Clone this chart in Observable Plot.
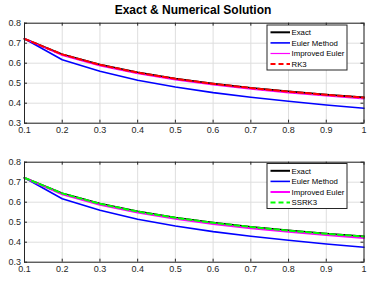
<!DOCTYPE html>
<html>
<head>
<meta charset="utf-8">
<script src="https://cdn.jsdelivr.net/npm/d3@7"></script>
<script src="https://cdn.jsdelivr.net/npm/@observablehq/plot@0.6"></script>
<style>
  html, body { margin: 0; padding: 0; background: #fff; }
  #wrap { position: relative; width: 373px; height: 282px; overflow: hidden; font-family: "Liberation Sans", Arial, sans-serif; }
  #title { position: absolute; left: 0; width: 386px; top: 3px; text-align: center; font-weight: bold; font-size: 12px; color: #000; line-height: 14px; z-index: 2; }
  .panel { position: absolute; left: 0; }
</style>
</head>
<body>
<div id="wrap">
  <div id="p1" class="panel" style="top:0px"></div>
  <div id="p2" class="panel" style="top:141px"></div>
  <div id="title">Exact &amp; Numerical Solution</div>
</div>
<script>
const xs = [0.1, 0.2, 0.3, 0.4, 0.5, 0.6, 0.7, 0.8, 0.9, 1.0];
const exact    = [0.722, 0.644, 0.592, 0.553, 0.522, 0.497, 0.476, 0.458, 0.442, 0.428];
const euler    = [0.722, 0.617, 0.560, 0.515, 0.481, 0.453, 0.430, 0.410, 0.391, 0.375];
const improved = [0.722, 0.639, 0.587, 0.548, 0.517, 0.491, 0.470, 0.452, 0.436, 0.421];
const rk3      = [0.722, 0.644, 0.592, 0.553, 0.522, 0.497, 0.476, 0.458, 0.442, 0.428];
const ssrk3    = [0.722, 0.644, 0.592, 0.553, 0.522, 0.497, 0.476, 0.458, 0.442, 0.428];
const xTicks = [0.1, 0.2, 0.3, 0.4, 0.5, 0.6, 0.7, 0.8, 0.9, 1.0];
const yTicks = [0.3, 0.4, 0.5, 0.6, 0.7, 0.8];
const legend1 = ["Exact", "Euler Method", "Improved Euler", "RK3"];
const legend2 = ["Exact", "Euler Method", "Improved Euler", "SSRK3"];

const AX = "#262626";
const GRID = "#dedede";

function toRows(ys) { return xs.map((x, i) => ({x, y: ys[i]})); }

function panel(cfg) {
  const W = 373, H = 141;
  const mL = 24, mR = 9.5;
  const innerH = H - cfg.mt - cfg.mb;
  const innerW = W - mL - mR;
  const tk = 3;
  const series = cfg.series;
  const marks = [
    Plot.gridX(xTicks, {stroke: GRID, strokeOpacity: 1}),
    Plot.gridY(yTicks, {stroke: GRID, strokeOpacity: 1}),
    Plot.ruleX(xTicks, {x: d => d, stroke: AX, insetTop: innerH - tk}),
    Plot.ruleX(xTicks, {x: d => d, stroke: AX, insetBottom: innerH - tk}),
    Plot.ruleY(yTicks, {y: d => d, stroke: AX, insetRight: innerW - tk}),
    Plot.ruleY(yTicks, {y: d => d, stroke: AX, insetLeft: innerW - tk}),
    Plot.axisX(xTicks, {tickSize: 0, tickPadding: 3.5, label: null, color: AX,
      tickFormat: d => d === 1 ? "1" : d.toFixed(1)}),
    Plot.axisY(yTicks, {tickSize: 0, tickPadding: 3.5, label: null, color: AX,
      tickFormat: d => d.toFixed(1)}),
    ...series.map(s => Plot.line(toRows(s.ys), {x: "x", y: "y", stroke: s.color,
      strokeWidth: s.w, strokeDasharray: s.dash || null, curve: "linear"})),
    Plot.frame({stroke: AX, strokeWidth: 1})
  ];
  const svg = Plot.plot({
    width: W, height: H,
    marginLeft: mL, marginRight: mR, marginTop: cfg.mt, marginBottom: cfg.mb,
    style: {fontFamily: '"Liberation Sans", Arial, sans-serif', fontSize: "9px", background: "transparent", color: AX},
    x: {domain: [0.1, 1], axis: null},
    y: {domain: [0.3, 0.8], axis: null},
    marks
  });
  const g = d3.select(svg).append("g").attr("text-anchor", "start");
  const lx = 267, lw = 80, ly = cfg.legendTop, lh = 45;
  g.append("rect").attr("x", lx).attr("y", ly).attr("width", lw).attr("height", lh)
    .style("fill", "#ffffff").style("stroke", AX).style("stroke-width", "1px");
  series.forEach((s, i) => {
    const yy = ly + 7.3 + i * 10.6;
    g.append("line").attr("x1", lx + 3.5).attr("x2", lx + 23).attr("y1", yy).attr("y2", yy)
      .style("stroke", s.color).style("stroke-width", (s.lw || s.w) + "px")
      .style("stroke-dasharray", s.dash || "none");
    g.append("text").attr("x", lx + 24.5).attr("y", yy).attr("dy", "0.35em")
      .style("text-anchor", "start")
      .style("font-size", "7.8px").style("fill", "#000")
      .style("font-family", '"Liberation Sans", Arial, sans-serif')
      .text(cfg.labels[i]);
  });
  return svg;
}

document.getElementById("p1").appendChild(panel({
  mt: 22.7, mb: 18.3, legendTop: 25,
  labels: legend1,
  series: [
    {ys: exact, color: "#000000", w: 2},
    {ys: euler, color: "#0000ff", w: 1.6},
    {ys: improved, color: "#ff00ff", w: 1.2},
    {ys: rk3, color: "#ff0000", w: 2, dash: "5,3"}
  ]
}));

document.getElementById("p2").appendChild(panel({
  mt: 20.7, mb: 20.3, legendTop: 22.5,
  labels: legend2,
  series: [
    {ys: exact, color: "#000000", w: 2},
    {ys: euler, color: "#0000ff", w: 1.6},
    {ys: improved, color: "#ff00ff", w: 2},
    {ys: ssrk3, color: "#00ff00", w: 2, dash: "5,3"}
  ]
}));
</script>
</body>
</html>
